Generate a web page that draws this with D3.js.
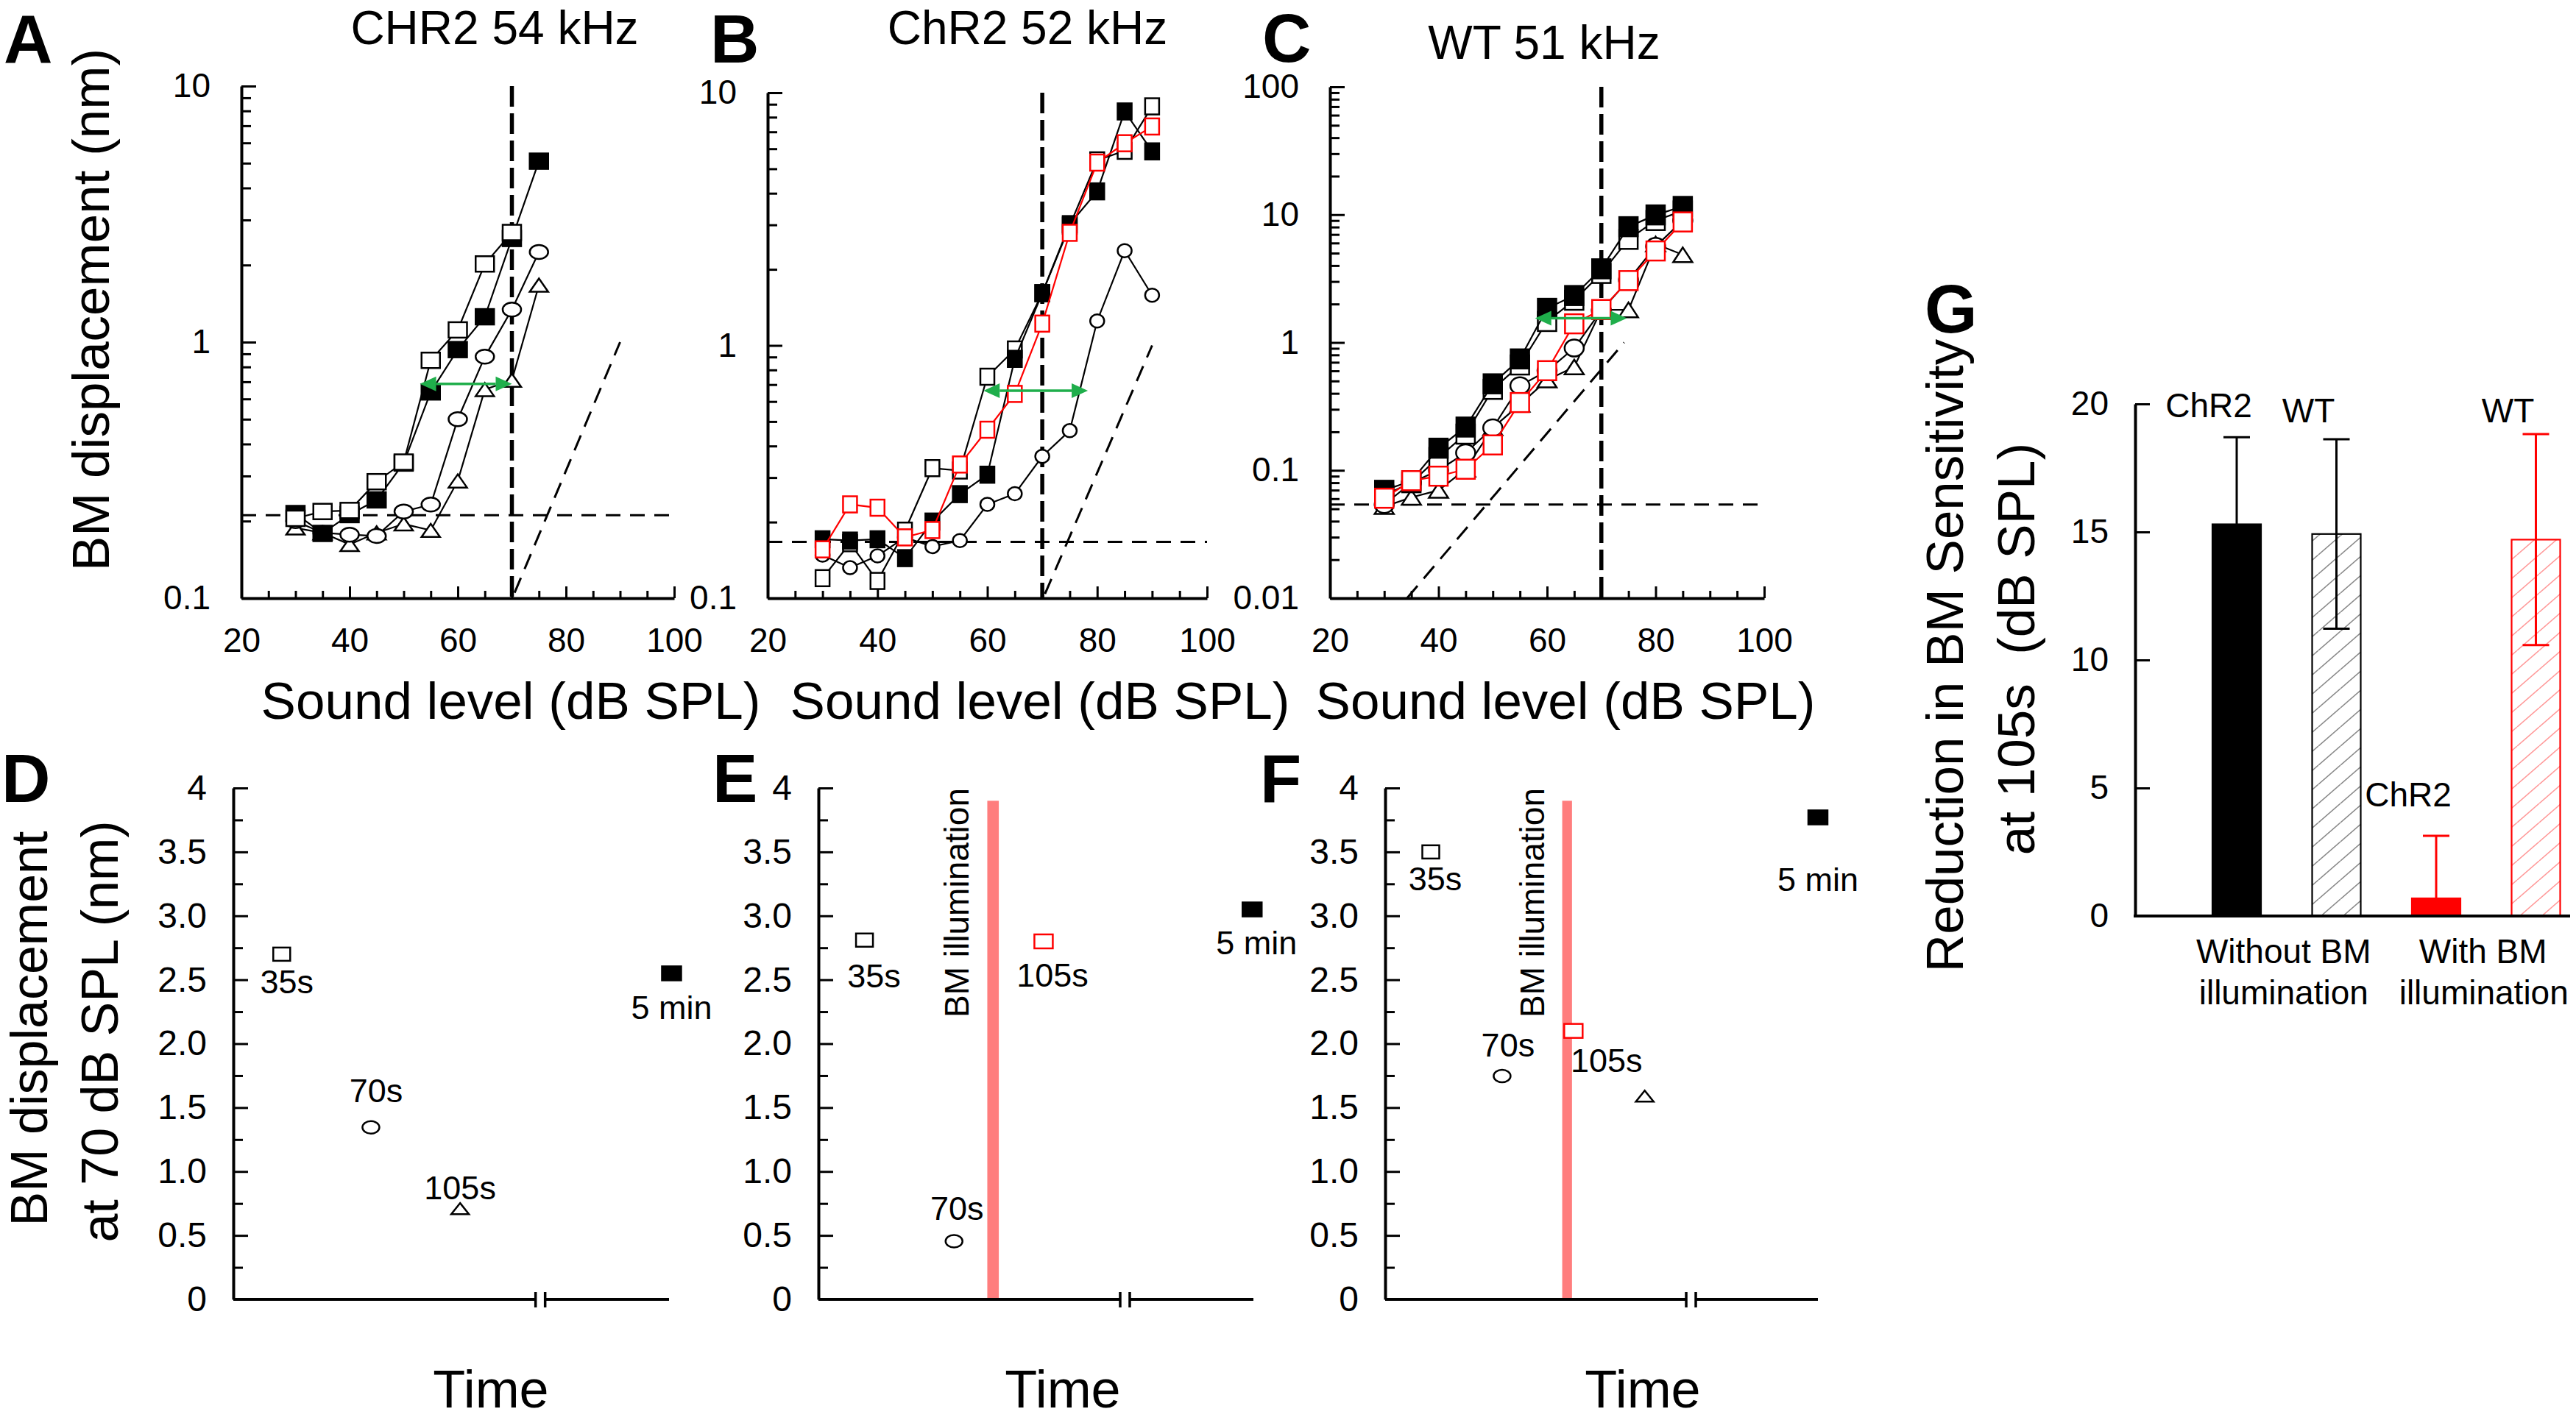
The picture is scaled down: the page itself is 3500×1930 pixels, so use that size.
<!DOCTYPE html>
<html><head><meta charset="utf-8">
<script src="https://cdn.jsdelivr.net/npm/d3@7"></script>
<style>
html,body{margin:0;padding:0;background:#fff;}
svg{display:block;}
</style></head><body>
<svg id="fig" width="3500" height="1930"></svg>
<script>
// ================= DATA =================
// Panel A: CHR2 54 kHz
const levelsA = [30,35,40,45,50,55,60,65,70,75];
const aFilledSq = [0.214,0.179,0.212,0.242,0.337,0.639,0.935,1.256,2.54,5.09];
const aOpenSq   = [0.205,0.218,0.22,0.285,0.34,0.849,1.116,2.02,2.68];
const aCircle   = [0.2,0.18,0.177,0.175,0.218,0.232,0.5,0.877,1.34,2.25];
const aTriangle = [0.188,0.18,0.162,0.18,0.195,0.184,0.287,0.653,0.71,1.67];
const aNoise = 0.211, aLinear = [[70.5,0.105],[90,1]], aArrow = [53,70,0.687];

// Panel B: ChR2 52 kHz
const levelsB = [30,35,40,45,50,55,60,65,70,75,80,85,90];
const bFilledSq = [0.171,0.169,0.171,0.144,0.201,0.258,0.308,0.885,1.61,3.02,4.07,8.43,5.86];
const bOpenSq   = [0.12,0.165,0.117,0.185,0.327,0.32,0.752,0.964,1.61,2.98,5.4,5.89,8.83];
const bRedSq    = [0.156,0.235,0.228,0.174,0.186,0.338,0.464,0.643,1.22,2.79,5.29,6.31,7.35];
const bCircle   = [0.148,0.132,0.147,0.174,0.16,0.169,0.235,0.259,0.364,0.46,1.25,2.37,1.58];
const bNoise = 0.167, bLinear = [[70.5,0.104],[90,1]], bArrow = [59.3,78.3,0.662];

// Panel C: WT 51 kHz
const levelsC = [30,35,40,45,50,55,60,65,70,75,80,85];
const cFilledSq = [0.0698,0.0826,0.149,0.218,0.475,0.744,1.85,2.33,3.77,8.05,9.95,11.6];
const cOpenSq   = [0.064,0.08,0.126,0.192,0.43,0.667,1.46,2.14,3.47,6.41,9.0,10.7];
const cRedSq    = [0.0605,0.083,0.09,0.102,0.158,0.339,0.602,1.4,1.81,3.05,5.2,8.77];
const cCircle   = [0.054,0.08,0.1,0.137,0.215,0.459,0.6,0.904,1.78,3.08,5.65,9.0];
const cTriangle = [0.052,0.0615,0.0698,0.102,0.215,0.328,0.508,0.644,1.8,1.8,5.9,4.85];
const cNoise = 0.054, cLinear = [[34.2,0.01],[74.2,1]], cArrow = [57.8,74.7,1.55];

const xTickLabels = [20,40,60,80,100];

// Panels D-F: displacement at 70 dB SPL over time (seconds; 5 min drawn after axis break)
const dTimes = [35,70,105,188];
const dValues = [2.70,1.345,0.71,2.55];
const dLabels = ["35s","70s","105s","5 min"];
const dShapes = ["square","circle","triangle","filled"];

const eTimes = [35,70,105,186.5];
const eValues = [2.81,0.455,2.8,3.05];
const eLabels = ["35s","70s","105s","5 min"];
const eShapes = ["square","circle","red","filled"];
const eIllum = [83,87.5];

const fTimes = [35,70,105,140,225];
const fValues = [3.5,1.747,2.1,1.59,3.77];
const fLabels = ["35s","70s","105s","","5 min"];
const fShapes = ["square","circle","red","triangle","filled"];
const fIllum = [99.5,104.3];

const timeYTicks = [0,0.5,1,1.5,2,2.5,3,3.5,4];

// Panel G
const gCategories = ["ChR2 without","WT without","ChR2 with","WT with"];
const gGroupNames = ["ChR2","WT","ChR2","WT"];
const gMeans = [15.3,14.92,0.69,14.7];
const gSem = [3.4,3.7,2.44,4.12];
const gYTicks = [0,5,10,15,20];

// ================= DRAWING =================
const FONT = '"Liberation Sans", Arial, Helvetica, sans-serif';
const RED = "#ff0000", GREEN = "#1fae4b", BAND = "#ff7d7d";
const svg = d3.select("#fig").attr("font-family", FONT);

const defs = svg.append("defs");
function hatch(id, color){
  const p = defs.append("pattern").attr("id", id).attr("patternUnits","userSpaceOnUse")
    .attr("width", 30).attr("height", 26);
  p.append("path").attr("d","M0,26L30,0M-15,13L0,0M30,26L45,13")
    .attr("stroke", color).attr("stroke-width", 1.6).attr("fill","none");
}
hatch("hatchGray", "#8a8a8a");
hatch("hatchRed", "#ff9a9a");

function styleAxis(sel, fs){
  sel.attr("font-family", FONT).attr("font-size", fs);
  sel.select(".domain").attr("stroke","#000").attr("stroke-width",4);
  sel.selectAll(".tick line").attr("stroke","#000").attr("stroke-width",3);
  sel.selectAll(".tick text").attr("fill","#000");
}

function marker(g, shape, cx, cy, w, h, color, filled){
  const sw = 2.5, fill = filled ? color : "#fff";
  if (shape === "square") {
    g.append("rect").attr("x", cx - w/2).attr("y", cy - h/2).attr("width", w).attr("height", h)
      .attr("fill", fill).attr("stroke", color).attr("stroke-width", sw);
  } else if (shape === "circle") {
    g.append("ellipse").attr("cx", cx).attr("cy", cy).attr("rx", w/2).attr("ry", h/2)
      .attr("fill", fill).attr("stroke", color).attr("stroke-width", sw);
  } else {
    g.append("path").attr("d", `M${cx},${cy - h/2}L${cx + w/2},${cy + h/2}L${cx - w/2},${cy + h/2}Z`)
      .attr("fill", fill).attr("stroke", color).attr("stroke-width", sw);
  }
}

function text(g, str, x, y, fs, opts = {}){
  const t = g.append("text").attr("x", x).attr("y", y).attr("font-size", fs)
    .attr("text-anchor", opts.anchor || "middle").attr("fill", opts.fill || "#000").text(str);
  if (opts.bold) t.attr("font-weight", "bold");
  return t;
}
function vtext(g, str, x, y, fs, anchor = "middle"){
  return g.append("text").attr("transform", `translate(${x},${y}) rotate(-90)`)
    .attr("font-size", fs).attr("text-anchor", anchor).attr("fill","#000").text(str);
}

// ---------- Top row (log) panels ----------
function logPanel(cfg){
  const g = svg.append("g");
  const x = d3.scaleLinear().domain([20,100]).range([cfg.x0, cfg.x1]);
  const y = d3.scaleLog().domain(cfg.yDomain).range([cfg.yb, cfg.yt]);

  const minorX = d3.range(25, 100, 5).filter(v => v % 20 !== 0);
  const gxm = g.append("g").attr("transform", `translate(0,${cfg.yb})`)
    .call(d3.axisBottom(x).tickValues(minorX).tickSize(-10).tickSizeOuter(0).tickFormat(""));
  styleAxis(gxm, 46); gxm.select(".domain").remove();
  const gx = g.append("g").attr("transform", `translate(0,${cfg.yb})`)
    .call(d3.axisBottom(x).tickValues(xTickLabels).tickSize(-16).tickSizeOuter(0).tickPadding(40).tickFormat(d3.format("d")));
  styleAxis(gx, 46);

  const [lo, hi] = cfg.yDomain;
  const majors = [], minors = [];
  for (let d = lo; d <= hi * 1.0001; d *= 10) {
    majors.push(d);
    if (d < hi * 0.999) for (let k = 2; k <= 9; k++) minors.push(d * k);
  }
  const gym = g.append("g").attr("transform", `translate(${cfg.x0},0)`)
    .call(d3.axisLeft(y).tickValues(minors).tickSize(-13).tickSizeOuter(0).tickFormat(""));
  styleAxis(gym, 46); gym.select(".domain").remove();
  const gy = g.append("g").attr("transform", `translate(${cfg.x0},0)`)
    .call(d3.axisLeft(y).tickValues(majors).tickSize(-20).tickSizeOuter(0).tickPadding(42)
      .tickFormat(d => d >= 1 ? d3.format("d")(d) : String(+d.toPrecision(1))));
  styleAxis(gy, 46);

  g.append("line").attr("x1", x(20)).attr("x2", x(100)).attr("y1", y(cfg.noise)).attr("y2", y(cfg.noise))
    .attr("stroke","#000").attr("stroke-width",3).attr("stroke-dasharray","20,13");
  g.append("line").attr("x1", x(70)).attr("x2", x(70)).attr("y1", cfg.yt).attr("y2", cfg.yb)
    .attr("stroke","#000").attr("stroke-width",5.5).attr("stroke-dasharray","28,9");
  g.append("line").attr("x1", x(cfg.linear[0][0])).attr("y1", y(cfg.linear[0][1]))
    .attr("x2", x(cfg.linear[1][0])).attr("y2", y(cfg.linear[1][1]))
    .attr("stroke","#000").attr("stroke-width",3).attr("stroke-dasharray","22,13");

  const line = d3.line().x(d => x(d[0])).y(d => y(d[1]));
  cfg.series.forEach(s => {
    const pts = s.values.map((v, i) => [cfg.levels[i], v]);
    g.append("path").attr("d", line(pts)).attr("fill","none")
      .attr("stroke", s.color).attr("stroke-width", 2.2);
    pts.forEach(p => {
      const sz = cfg.sizes[s.shape];
      marker(g, s.shape, x(p[0]), y(p[1]), sz[0], sz[1], s.color, s.filled);
    });
  });

  const ay = y(cfg.arrow[2]), ax0 = x(cfg.arrow[0]), ax1 = x(cfg.arrow[1]);
  const ah = 22, aw = 10;
  g.append("line").attr("x1", ax0 + ah).attr("x2", ax1 - ah).attr("y1", ay).attr("y2", ay)
    .attr("stroke", GREEN).attr("stroke-width", 3.5);
  g.append("path").attr("d", `M${ax0},${ay}L${ax0 + ah},${ay - aw}L${ax0 + ah},${ay + aw}Z`).attr("fill", GREEN);
  g.append("path").attr("d", `M${ax1},${ay}L${ax1 - ah},${ay - aw}L${ax1 - ah},${ay + aw}Z`).attr("fill", GREEN);

  text(g, cfg.title, cfg.titleX, cfg.titleY, 64);
  text(g, "Sound level (dB SPL)", cfg.xlabX, 977, 71);
  text(g, cfg.letter, cfg.letterX, cfg.letterY, 92, {anchor:"start", bold:true});
}

logPanel({
  x0:328, x1:916, yb:813, yt:117, yDomain:[0.1,10], levels:levelsA,
  noise:aNoise, linear:aLinear, arrow:aArrow,
  sizes:{square:[25,21], circle:[25,19], triangle:[25,18]},
  series:[
    {values:aTriangle, shape:"triangle", color:"#000", filled:false},
    {values:aCircle, shape:"circle", color:"#000", filled:false},
    {values:aFilledSq, shape:"square", color:"#000", filled:true},
    {values:aOpenSq, shape:"square", color:"#000", filled:false}
  ],
  title:"CHR2 54 kHz", titleX:672, titleY:60, xlabX:694, letter:"A", letterX:5, letterY:85
});
logPanel({
  x0:1043, x1:1640, yb:813, yt:126, yDomain:[0.1,10], levels:levelsB,
  noise:bNoise, linear:bLinear, arrow:bArrow,
  sizes:{square:[19,22], circle:[19,18], triangle:[20,16]},
  series:[
    {values:bCircle, shape:"circle", color:"#000", filled:false},
    {values:bOpenSq, shape:"square", color:"#000", filled:false},
    {values:bFilledSq, shape:"square", color:"#000", filled:true},
    {values:bRedSq, shape:"square", color:RED, filled:false}
  ],
  title:"ChR2 52 kHz", titleX:1396, titleY:60, xlabX:1413, letter:"B", letterX:965, letterY:85
});
logPanel({
  x0:1807, x1:2397, yb:813, yt:118, yDomain:[0.01,100], levels:levelsC,
  noise:cNoise, linear:cLinear, arrow:cArrow,
  sizes:{square:[25,26], circle:[26,23], triangle:[26,20]},
  series:[
    {values:cTriangle, shape:"triangle", color:"#000", filled:false},
    {values:cCircle, shape:"circle", color:"#000", filled:false},
    {values:cOpenSq, shape:"square", color:"#000", filled:false},
    {values:cFilledSq, shape:"square", color:"#000", filled:true},
    {values:cRedSq, shape:"square", color:RED, filled:false}
  ],
  title:"WT 51 kHz", titleX:2098, titleY:80, xlabX:2127, letter:"C", letterX:1715, letterY:84
});
vtext(svg, "BM displacement (nm)", 148, 421, 71);

// ---------- Bottom row (time) panels ----------
function timePanel(cfg){
  const g = svg.append("g");
  const x = d3.scaleLinear().domain(cfg.tDomain).range([cfg.x0, cfg.x1]);
  const y = d3.scaleLinear().domain([0,4]).range([1766,1071]);

  if (cfg.illum) {
    g.append("rect").attr("x", x(cfg.illum[0])).attr("width", x(cfg.illum[1]) - x(cfg.illum[0]))
      .attr("y", y(3.9)).attr("height", y(0) - y(3.9) - 2).attr("fill", BAND);
    vtext(g, "BM illumination", x(cfg.illum[0]) - 25, y(4), 46, "end");
  }

  const minorY = d3.range(0.25, 4, 0.5);
  const gym = g.append("g").attr("transform", `translate(${cfg.x0},0)`)
    .call(d3.axisLeft(y).tickValues(minorY).tickSize(-13).tickSizeOuter(0).tickFormat(""));
  styleAxis(gym, 48); gym.select(".domain").remove();
  const gy = g.append("g").attr("transform", `translate(${cfg.x0},0)`)
    .call(d3.axisLeft(y).tickValues(timeYTicks).tickSize(-20).tickSizeOuter(0).tickPadding(36)
      .tickFormat(d => (d === 0 || d === 4) ? String(d) : d3.format(".1f")(d)));
  styleAxis(gy, 48);

  const yb = y(0), xb = x(cfg.brk);
  g.append("line").attr("x1", cfg.x0).attr("x2", xb - 6).attr("y1", yb).attr("y2", yb).attr("stroke","#000").attr("stroke-width",4);
  g.append("line").attr("x1", xb + 6).attr("x2", cfg.x1).attr("y1", yb).attr("y2", yb).attr("stroke","#000").attr("stroke-width",4);
  [-6.5, 6.5].forEach(o => g.append("line").attr("x1", xb + o).attr("x2", xb + o).attr("y1", yb - 10).attr("y2", yb + 11)
    .attr("stroke","#000").attr("stroke-width",3.5));

  cfg.times.forEach((t, i) => {
    const sh = cfg.shapes[i], px = x(t), py = y(cfg.values[i]);
    if (sh === "square") marker(g, "square", px, py, 23, 18, "#000", false);
    else if (sh === "circle") marker(g, "circle", px, py, 23, 17, "#000", false);
    else if (sh === "triangle") marker(g, "triangle", px, py, 24, 15, "#000", false);
    else if (sh === "red") marker(g, "square", px, py, 25, 19, RED, false);
    else marker(g, "square", px, py, 26, 19, "#000", true);
    if (cfg.labels[i]) {
      const off = cfg.labelOff[i];
      text(g, cfg.labels[i], px + off[0], py + off[1], 45);
    }
  });

  text(g, "Time", cfg.timeX, 1913, 72);
  text(g, cfg.letter, cfg.letterX, 1090, 92, {anchor:"start", bold:true});
}

timePanel({x0:317, x1:909, tDomain:[16,187], brk:136.5, times:dTimes, values:dValues, labels:dLabels, shapes:dShapes,
  labelOff:[[7,53],[7,-34],[0,-13],[0,62]], timeX:667, letter:"D", letterX:2});
timePanel({x0:1112, x1:1703, tDomain:[17,187], brk:136.8, times:eTimes, values:eValues, labels:eLabels, shapes:eShapes,
  illum:eIllum, labelOff:[[13,64],[4,-29],[12,61],[6,61]], timeX:1444, letter:"E", letterX:968});
timePanel({x0:1882, x1:2470, tDomain:[12.6,225], brk:162.7, times:fTimes, values:fValues, labels:fLabels, shapes:fShapes,
  illum:fIllum, labelOff:[[6,52],[8,-26],[45,56],[0,0],[0,100]], timeX:2232, letter:"F", letterX:1712});

const dl = svg.append("g");
vtext(dl, "BM displacement", 64, 1398, 70);
vtext(dl, "at 70 dB SPL (nm)", 160, 1402, 70);

// ---------- Panel G ----------
(function(){
  const g = svg.append("g");
  const x = d3.scaleBand().domain(gCategories).range([2938.25, 3546.25]).paddingInner(0.5129).paddingOuter(0.5);
  const y = d3.scaleLinear().domain([0,20]).range([1245,549]);
  const fills = ["#000", "url(#hatchGray)", RED, "url(#hatchRed)"];
  const strokes = ["#000", "#000", RED, RED];
  const errColor = ["#000", "#000", RED, RED];

  gCategories.forEach((c, i) => {
    g.append("rect").attr("x", x(c)).attr("width", x.bandwidth()).attr("y", y(gMeans[i]))
      .attr("height", y(0) - y(gMeans[i])).attr("fill", i === 1 || i === 3 ? "#fff" : fills[i]);
    g.append("rect").attr("x", x(c)).attr("width", x.bandwidth()).attr("y", y(gMeans[i]))
      .attr("height", y(0) - y(gMeans[i])).attr("fill", fills[i]).attr("stroke", strokes[i]).attr("stroke-width", 2.2);
  });
  gCategories.forEach((c, i) => {
    const cx = x(c) + x.bandwidth()/2;
    const top = gMeans[i] + gSem[i], bot = gMeans[i] - gSem[i];
    g.append("line").attr("x1", cx).attr("x2", cx).attr("y1", y(top)).attr("y2", y(gMeans[i]))
      .attr("stroke", errColor[i]).attr("stroke-width", 3);
    g.append("line").attr("x1", cx - 18).attr("x2", cx + 18).attr("y1", y(top)).attr("y2", y(top))
      .attr("stroke", errColor[i]).attr("stroke-width", 3);
    if (bot > 0 && (i === 1 || i === 3)) {
      g.append("line").attr("x1", cx).attr("x2", cx).attr("y1", y(gMeans[i])).attr("y2", y(bot))
        .attr("stroke", errColor[i]).attr("stroke-width", 3);
      g.append("line").attr("x1", cx - 18).attr("x2", cx + 18).attr("y1", y(bot)).attr("y2", y(bot))
        .attr("stroke", errColor[i]).attr("stroke-width", 3);
    }
  });

  const gy = g.append("g").attr("transform", `translate(2901,0)`)
    .call(d3.axisLeft(y).tickValues(gYTicks).tickSize(-20).tickSizeOuter(0).tickPadding(36).tickFormat(d3.format("d")));
  styleAxis(gy, 46);
  g.append("line").attr("x1", 2899).attr("x2", 3492).attr("y1", y(0)).attr("y2", y(0)).attr("stroke","#000").attr("stroke-width",4);

  const annY = [567, 574, 1096, 574];
  gCategories.forEach((c, i) => {
    const cx = x(c) + x.bandwidth()/2;
    text(g, gGroupNames[i], cx - 38, annY[i], 46);
  });
  const mid01 = (x(gCategories[0]) + x(gCategories[1]) + x.bandwidth())/2;
  const mid23 = (x(gCategories[2]) + x(gCategories[3]) + x.bandwidth())/2;
  text(g, "Without BM", mid01 - 4, 1309, 46);
  text(g, "illumination", mid01 - 4, 1365, 46);
  text(g, "With BM", mid23 - 4, 1309, 46);
  text(g, "illumination", mid23 - 3, 1365, 46);

  vtext(g, "Reduction in BM Sensitivity", 2667, 891, 71);
  vtext(g, "at 105s  (dB SPL)", 2764, 882, 71).style("white-space","pre");
  text(g, "G", 2615, 452, 92, {anchor:"start", bold:true});
})();
</script>
</body></html>
